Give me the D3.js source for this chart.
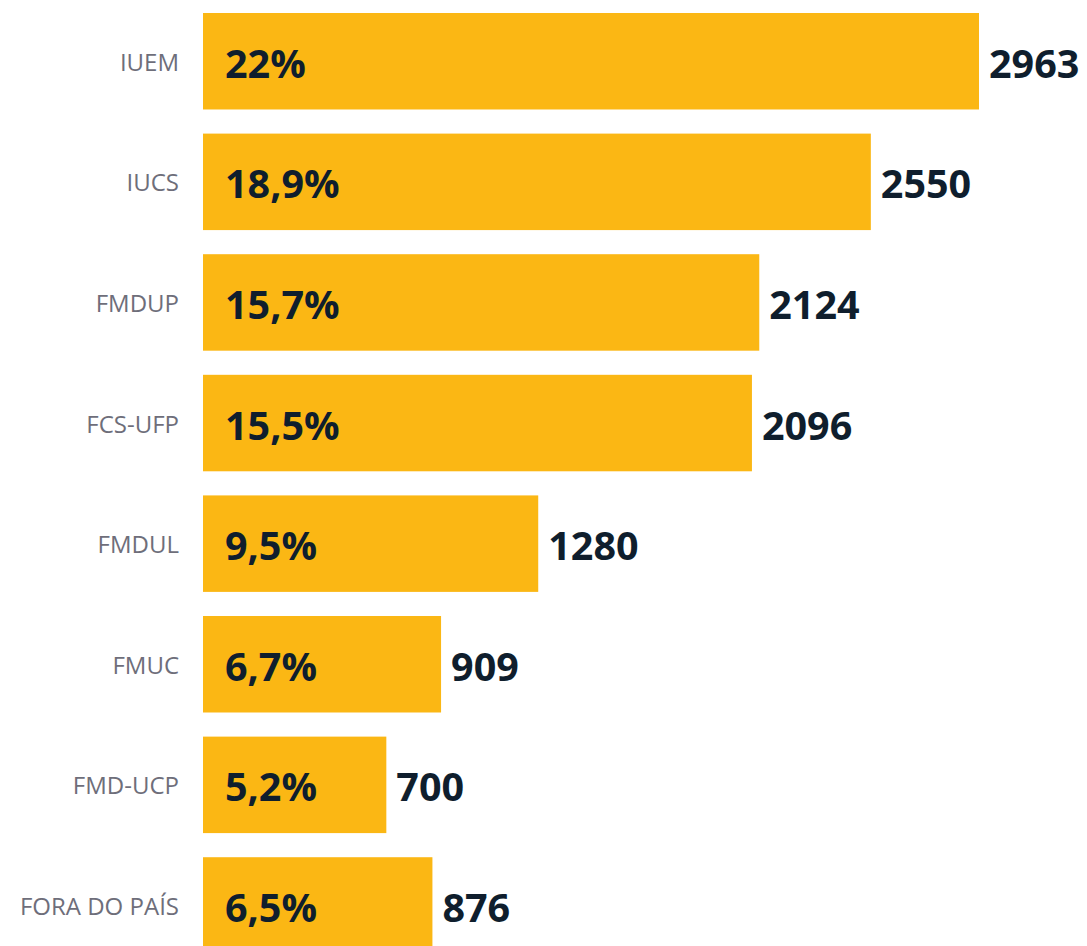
<!DOCTYPE html>
<html><head><meta charset="utf-8">
<script src="https://cdn.jsdelivr.net/npm/d3@7"></script>
<style>body{margin:0;background:#fff;}svg{display:block;}</style>
</head><body>
<svg id="c" width="1087" height="946"></svg>
<script>
const categories = ["IUEM","IUCS","FMDUP","FCS-UFP","FMDUL","FMUC","FMD-UCP","FORA DO PAÍS"];
const counts = [2963,2550,2124,2096,1280,909,700,876];
const percents = ["22%","18,9%","15,7%","15,5%","9,5%","6,7%","5,2%","6,5%"];

const svg = d3.select("#c");
const x0 = 203;
const x = d3.scaleLinear().domain([0, 2963]).range([x0, 979]);
const y = d3.scaleBand().domain(categories).range([13, 953.7]).paddingInner(0.2).paddingOuter(0);
const data = categories.map((c,i)=>({c, v:counts[i], p:percents[i]}));
const font = "'Open Sans', 'Noto Sans', sans-serif";

const g = svg.append("g");
g.selectAll("rect").data(data).join("rect")
  .attr("x", x(0)).attr("y", d=>y(d.c))
  .attr("width", d=>x(d.v)-x(0)).attr("height", y.bandwidth())
  .attr("fill", "#FBB714");

g.selectAll("text.lab").data(data).join("text").attr("class","lab")
  .attr("x", x0-24).attr("y", d=>y(d.c)+y.bandwidth()/2+9.5)
  .attr("text-anchor","end").attr("font-family",font).attr("font-size",24)
  .attr("fill","#6e6e7a").text(d=>d.c);

g.selectAll("text.pct").data(data).join("text").attr("class","pct")
  .attr("x", x0+22).attr("y", d=>y(d.c)+y.bandwidth()/2+16.5)
  .attr("font-family",font).attr("font-size",39.5).attr("font-weight",700)
  .attr("fill","#0f1e2d").text(d=>d.p);

g.selectAll("text.val").data(data).join("text").attr("class","val")
  .attr("x", d=>x(d.v)+10).attr("y", d=>y(d.c)+y.bandwidth()/2+16.5)
  .attr("font-family",font).attr("font-size",39.5).attr("font-weight",700)
  .attr("fill","#0f1e2d").text(d=>d.v);
</script>
</body></html>
